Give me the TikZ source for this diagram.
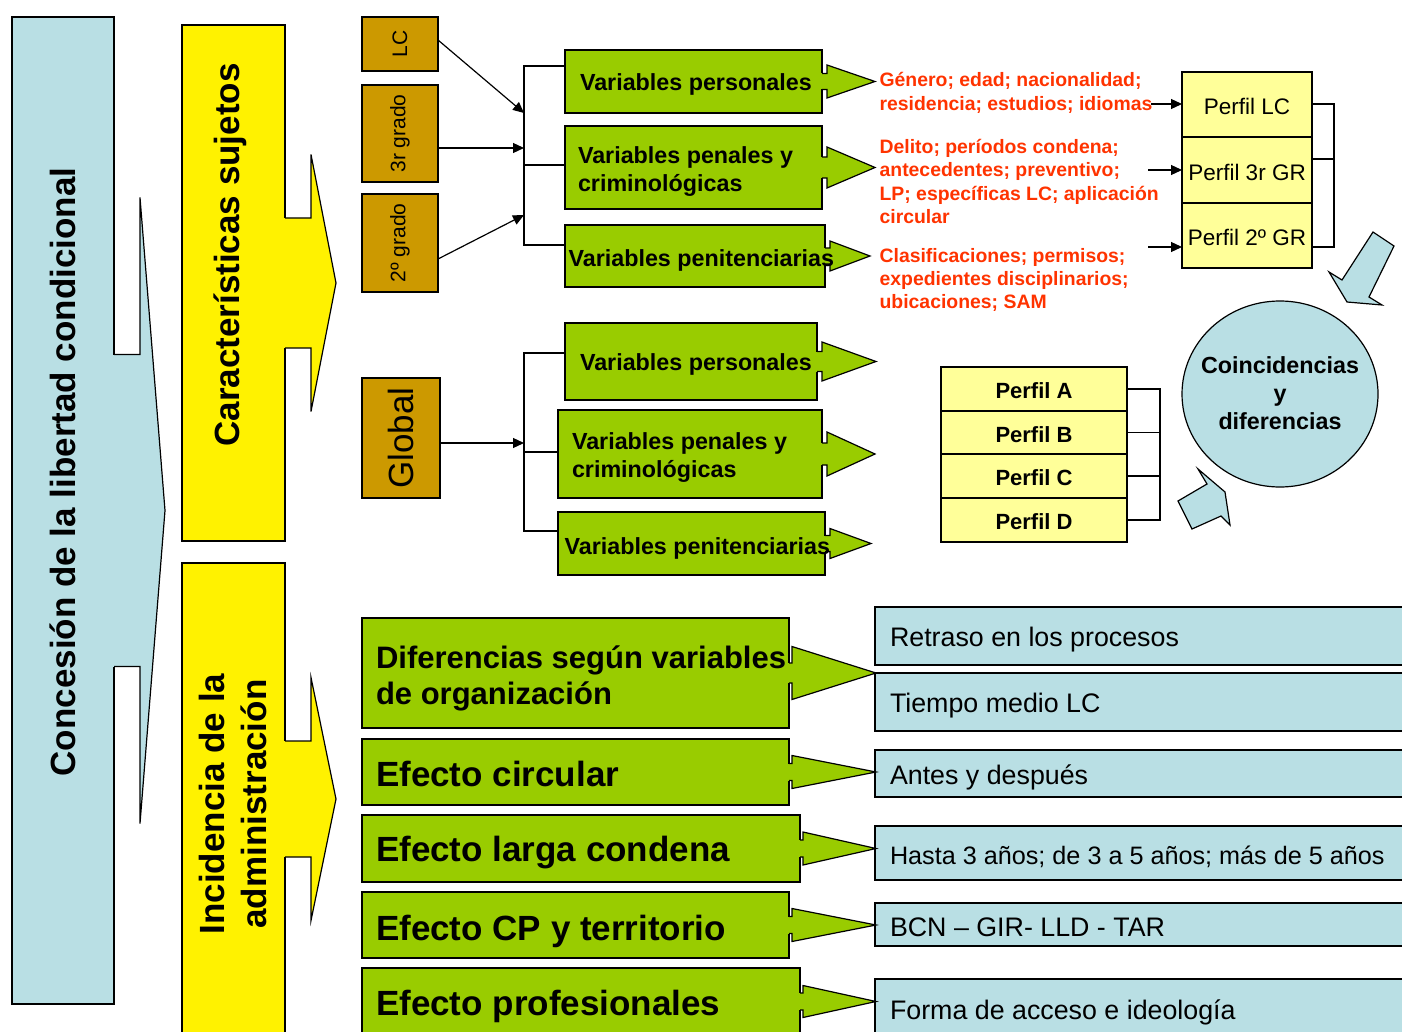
\documentclass[tikz,border=0pt]{standalone}
\usepackage{fontspec}
\setmainfont{Liberation Sans}
\usepackage{graphicx}
\usetikzlibrary{arrows.meta}
\usetikzlibrary{calc}
\usetikzlibrary{positioning}
\usetikzlibrary{shapes.geometric}

\definecolor{lblue}{RGB}{185,223,228}
\definecolor{vgreen}{RGB}{153,204,0}
\definecolor{ocre}{RGB}{204,153,0}
\definecolor{pyellow}{RGB}{255,255,153}
\definecolor{orred}{RGB}{255,51,0}

% head of a callout box: fill, node, neck width, neck half height, head half height, head length
\newcommand{\rhead}[6]{%
  \fill[#1] (#2.east) ++(-1.5,-#4) rectangle ++(#3+1.5,2*#4);
  \draw[fill=#1] (#2.east) ++(0,-#4) -- ++(#3,0) -- ++(0,#4-#5) -- ++(#6,#5) -- ++(-#6,#5) -- ++(0,#4-#5) -- ++(-#3,0);
}
% text lowered inside its box
\newcommand{\low}[2]{\raisebox{-#1}[\height][\depth]{#2}}

\begin{document}
\begin{tikzpicture}[x=1pt, y=-1pt, line width=1.2pt,
  shapebox/.style={draw, anchor=north west, inner sep=0pt, outer sep=0pt},
  conn/.style={line width=1.1pt},
  arr/.style={line width=1.2pt, -{Triangle[length=11pt,width=10pt]}},
  bigtxt/.style={font=\bfseries\fontsize{35}{42}\selectfont},
  vartxt/.style={font=\bfseries\fontsize{23.3}{28}\selectfont},
  ocrebox/.style={shapebox, fill=ocre, font=\fontsize{21}{25}\selectfont},
  varbox/.style={shapebox, fill=vgreen, vartxt},
  notes/.style={text=orred, font=\bfseries\fontsize{19.4}{23.3}\selectfont, align=left, anchor=west, inner sep=0pt},
  perfbox/.style={shapebox, fill=pyellow, font=\fontsize{22.5}{26}\selectfont},
  perfboxb/.style={shapebox, fill=pyellow, font=\bfseries\fontsize{22}{26}\selectfont},
  bluebox/.style={shapebox, fill=lblue, font=\fontsize{26.8}{32}\selectfont},
  effbox/.style={shapebox, fill=vgreen, font=\bfseries\fontsize{35}{42}\selectfont}]
  \useasboundingbox (0,0) rectangle (1402,1032);
  \clip (0,0) rectangle (1402,1032);

  \node[shapebox, fill=lblue, minimum width=102pt, minimum height=987pt] (conc) at (12,17) {};
  \rhead{lblue}{conc}{26}{156}{313}{25}
  \node[bigtxt, rotate=90] (conct) at (63,472) {Concesión de la libertad condicional};

  \node[shapebox, fill=yellow, minimum width=103pt, minimum height=516pt] (cara) at (182,25) {};
  \rhead{yellow}{cara}{26}{65}{128.5}{25}
  \node[bigtxt, rotate=90] (carat) at (230,255) {Características sujetos};

  \node[shapebox, fill=yellow, minimum width=103pt, minimum height=472pt] (inci) at (182,563) {};
  \rhead{yellow}{inci}{26}{58}{121.5}{25}
  \node[bigtxt, rotate=90, align=center] (incit) at (233,804) {Incidencia de la\\administración};

  \node[ocrebox, minimum width=76pt, minimum height=54pt] (lc) at (362,17) {\rotatebox{90}{LC}};
  \node[ocrebox, minimum width=76pt, minimum height=97pt] (gr3) at (362,85) {\rotatebox{90}{3r grado}};
  \node[ocrebox, minimum width=76pt, minimum height=98pt] (gr2) at (362,194) {\rotatebox{90}{2º grado}};
  \node[ocrebox, minimum width=78pt, minimum height=120pt, font=\fontsize{35}{42}\selectfont] (glob) at (362,378) {\rotatebox{90}{Global}};

  \node[varbox, minimum width=257pt, minimum height=63pt] (vp1) at (565,50) {\makebox[257pt][l]{\hspace{15pt}\low{3pt}{Variables personales}}};
  \rhead{vgreen}{vp1}{5}{8}{16.5}{48}
  \node[varbox, minimum width=257pt, minimum height=83pt] (vpc1) at (565,126) {\makebox[257pt][l]{\hspace{13pt}\low{4pt}{\begin{tabular}{@{}l@{}}Variables penales y\\criminológicas\end{tabular}}}};
  \rhead{vgreen}{vpc1}{5}{10.5}{20.5}{48}
  \node[varbox, minimum width=260pt, minimum height=62pt] (vpen1) at (565,225) {};
  \rhead{vgreen}{vpen1}{5}{8}{15}{40}
  \node[vartxt, anchor=west, inner sep=0pt] (vpen1t) at (568,260) {Variables penitenciarias};

  \node[varbox, minimum width=252pt, minimum height=77pt] (vp2) at (565,323) {\makebox[252pt][l]{\hspace{15pt}\low{3pt}{Variables personales}}};
  \rhead{vgreen}{vp2}{5}{10}{19.5}{54}
  \node[varbox, minimum width=264pt, minimum height=88pt] (vpc2) at (558,410) {\makebox[264pt][l]{\hspace{14pt}\low{4pt}{\begin{tabular}{@{}l@{}}Variables penales y\\criminológicas\end{tabular}}}};
  \rhead{vgreen}{vpc2}{5}{11}{22}{48}
  \node[varbox, minimum width=267pt, minimum height=63pt] (vpen2) at (558,512) {};
  \rhead{vgreen}{vpen2}{5}{8}{15}{41}
  \node[vartxt, anchor=west, inner sep=0pt] (vpen2t) at (564,548) {Variables penitenciarias};

  \coordinate (j1a) at (524,66);
  \coordinate (j1b) at (524,165);
  \coordinate (j1c) at (524,245);
  \draw[conn] (vp1.west |- j1a) -- (j1a) -- (j1c) -- (vpen1.west |- j1c);
  \draw[conn] (j1b) -- (vpc1.west |- j1b);
  \coordinate (e1) at (524,113);
  \coordinate (e2) at (524,148);
  \coordinate (e3) at (524,215);
  \draw[arr] ($(lc.east)+(0,-4)$) -- (e1);
  \draw[arr] (gr3.east |- e2) -- (e2);
  \draw[arr] ($(gr2.east)+(0,16)$) -- (e3);

  \coordinate (j2a) at (524,353);
  \coordinate (j2b) at (524,452);
  \coordinate (j2c) at (524,531);
  \draw[conn] (vp2.west |- j2a) -- (j2a) -- (j2c) -- (vpen2.west |- j2c);
  \draw[conn] (j2b) -- (vpc2.west |- j2b);
  \coordinate (e4) at (524,443);
  \draw[arr] (glob.east |- e4) -- (e4);

  \node[notes] (n1) at (879,93) {Género; edad; nacionalidad;\\residencia; estudios; idiomas};
  \node[notes] (n2) at (879,181.5) {Delito; períodos condena;\\antecedentes; preventivo;\\LP; específicas LC; aplicación\\circular};
  \node[notes] (n3) at (879,280) {Clasificaciones; permisos;\\expedientes disciplinarios;\\ubicaciones; SAM};

  \node[perfbox, minimum width=130pt, minimum height=65pt] (plc1) at (1182,72) {\low{2pt}{Perfil LC}};
  \node[perfbox, minimum width=130pt, minimum height=66pt, below=0pt of plc1] (plc2) {\low{2pt}{Perfil 3r GR}};
  \node[perfbox, minimum width=130pt, minimum height=65pt, below=0pt of plc2] (plc3) {\low{2pt}{Perfil 2º GR}};
  \coordinate (s1) at (1151,104);
  \coordinate (s2) at (1148,170);
  \coordinate (s3) at (1148,247);
  \draw[arr] (s1) -- (plc1.west |- s1);
  \draw[arr] (s2) -- (plc2.west |- s2);
  \draw[arr] (s3) -- (plc3.west |- s3);
  \coordinate (k1) at (1334,104);
  \coordinate (k2) at (1334,159);
  \coordinate (k3) at (1334,247);
  \draw[conn] (plc1.east |- k1) -- (k1) -- (k3) -- (plc3.east |- k3);
  \draw[conn] (plc2.east |- k2) -- (k2);

  \node[perfboxb, minimum width=186pt, minimum height=44pt] (pa) at (941,367) {\low{2pt}{Perfil A}};
  \node[perfboxb, minimum width=186pt, minimum height=43pt, below=0pt of pa] (pb) {\low{2pt}{Perfil B}};
  \node[perfboxb, minimum width=186pt, minimum height=44pt, below=0pt of pb] (pc) {\low{2pt}{Perfil C}};
  \node[perfboxb, minimum width=186pt, minimum height=44pt, below=0pt of pc] (pd) {\low{2pt}{Perfil D}};
  \coordinate (m) at (1160,0);
  \draw[conn] (pa.east) -- (pa.east -| m) -- (pd.east -| m) -- (pd.east);
  \draw[conn] (pb.east) -- (pb.east -| m);
  \draw[conn] (pc.east) -- (pc.east -| m);

  \node[draw, fill=lblue, ellipse, minimum width=196pt, minimum height=186pt, inner sep=0pt, font=\bfseries\fontsize{23.3}{28}\selectfont] (coin) at (1280,394) {\makebox[0pt]{\low{2pt}{\begin{tabular}{@{}c@{}}Coincidencias\\y\\diferencias\end{tabular}}}};
  \draw[fill=lblue] (1373,232) -- (1342,280) -- (1329,272) -- (1347,302) -- (1382,305) -- (1369,297) -- (1394,246) -- cycle;
  \draw[fill=lblue] (1178,501) -- (1192,529) -- (1221,516) -- (1230,525) -- (1225,492) -- (1198,469) -- (1207,484) -- cycle;

  \node[bluebox, minimum height=58pt] (ret) at (875,607) {\makebox[540pt][l]{\hspace{15pt}\low{4pt}{Retraso en los procesos}}};
  \node[bluebox, minimum height=58pt] (tie) at (875,673) {\makebox[540pt][l]{\hspace{15pt}\low{4pt}{Tiempo medio LC}}};
  \node[bluebox, minimum height=47pt] (ant) at (875,750) {\makebox[540pt][l]{\hspace{15pt}\low{4pt}{Antes y después}}};
  \node[bluebox, minimum height=54pt, font=\fontsize{25.2}{30}\selectfont] (has) at (875,826) {\makebox[540pt][l]{\hspace{15pt}\low{4pt}{Hasta 3 años; de 3 a 5 años; más de 5 años}}};
  \node[bluebox, minimum height=43pt] (bcn) at (875,903) {\makebox[540pt][l]{\hspace{15pt}\low{3pt}{BCN – GIR- LLD - TAR}}};
  \node[bluebox, minimum height=61pt] (forma) at (875,979) {\makebox[540pt][l]{\hspace{15pt}\low{3pt}{Forma de acceso e ideología}}};

  \node[effbox, minimum height=110pt, font=\bfseries\fontsize{31}{36}\selectfont] (dif) at (362,618) {\makebox[427pt][l]{\hspace{14pt}\low{6pt}{\begin{tabular}{@{}l@{}}Diferencias según variables\\de organización\end{tabular}}}};
  \rhead{vgreen}{dif}{3}{10}{26.5}{84}
  \node[effbox, minimum height=66pt] (efc) at (362,739) {\makebox[427pt][l]{\hspace{14pt}\low{2pt}{Efecto circular}}};
  \rhead{vgreen}{efc}{3}{8.5}{16.5}{84}
  \node[effbox, minimum height=67pt] (efl) at (362,815) {\makebox[438pt][l]{\hspace{14pt}\low{4pt}{Efecto larga condena}}};
  \rhead{vgreen}{efl}{3}{8.5}{16.5}{73}
  \node[effbox, minimum height=66pt] (efcp) at (362,892) {\makebox[427pt][l]{\hspace{14pt}\low{6pt}{Efecto CP y territorio}}};
  \rhead{vgreen}{efcp}{3}{8.5}{16.5}{84}
  \node[effbox, minimum height=67pt] (efp) at (362,968) {\makebox[438pt][l]{\hspace{14pt}\low{5pt}{Efecto profesionales}}};
  \rhead{vgreen}{efp}{3}{8.5}{16}{73}
\end{tikzpicture}
\end{document}
